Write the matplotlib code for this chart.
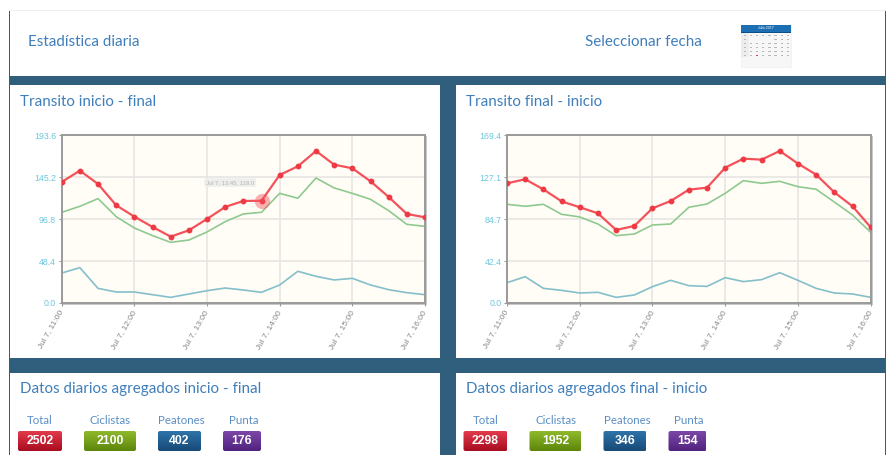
import numpy as np
import matplotlib
matplotlib.use("Agg")
import matplotlib.pyplot as plt
from matplotlib.patches import Rectangle, FancyBboxPatch

# ---- data ----
hour_ticks = [0, 4, 8, 12, 16, 20]
hour_labels = ["Jul 7, 11:00", "Jul 7, 12:00", "Jul 7, 13:00", "Jul 7, 14:00", "Jul 7, 15:00", "Jul 7, 16:00"]

left_total = [139.7, 152.8, 137.4, 112.8, 99.7, 87.8, 76.6, 83.9, 97.0, 110.9, 117.8, 118.0,
              147.8, 157.8, 175.5, 159.7, 155.5, 140.5, 122.4, 102.8, 98.9]
left_bike = [104.7, 111.6, 120.5, 99.7, 86.6, 77.8, 70.0, 72.7, 82.0, 93.9, 102.8, 104.7,
             126.6, 120.9, 144.3, 132.8, 126.6, 119.7, 106.6, 90.8, 88.5]
left_walk = [34.6, 40.8, 16.9, 12.7, 12.7, 9.6, 6.5, 10.4, 14.2, 17.3, 15.0, 12.3,
             20.8, 36.6, 30.8, 26.6, 28.5, 20.8, 15.4, 11.9, 9.6]
left_yticks = [0.0, 48.4, 96.8, 145.2, 193.6]

right_total = [120.9, 125.0, 114.8, 102.7, 96.7, 90.6, 73.8, 77.8, 95.7, 103.0, 114.5, 116.5,
               136.7, 145.8, 144.8, 153.6, 140.8, 129.7, 111.8, 97.7, 76.5]
right_bike = [99.7, 97.7, 99.7, 89.6, 86.9, 79.8, 68.0, 69.7, 78.8, 79.8, 96.7, 100.0,
              110.8, 123.6, 120.9, 122.9, 117.5, 114.9, 102.0, 88.9, 71.4]
right_walk = [20.5, 26.6, 14.8, 12.8, 10.1, 10.8, 5.7, 8.1, 16.5, 22.9, 17.5, 16.8,
              25.6, 21.6, 23.6, 30.6, 22.9, 14.8, 10.1, 9.1, 5.7]
right_yticks = [0.0, 42.4, 84.7, 127.1, 169.4]

badge_names = ["Total", "Ciclistas", "Peatones", "Punta"]
left_badges = [2502, 2100, 402, 176]
right_badges = [2298, 1952, 346, 154]

W, H = 895, 455
BG = "#2f5f7c"
BLUE = "#3f7ebb"
plt.rcParams["font.family"] = ["Lato", "DejaVu Sans"]

fig = plt.figure(figsize=(W / 100, H / 100), dpi=100, facecolor="white")
page = fig.add_axes([0, 0, 1, 1])
page.set_xlim(0, W)
page.set_ylim(H, 0)
page.axis("off")

# page frame and panels
page.add_patch(Rectangle((9, 10), 877, H - 10, fc=BG, ec="none"))
page.add_patch(Rectangle((10, 11), 875, 65, fc="white", ec="none"))
page.add_patch(Rectangle((9, 10), 877, 1, fc="#eef0f1", ec="none"))
for x0, x1 in [(10, 440), (456, 885)]:
    page.add_patch(Rectangle((x0, 85), x1 - x0, 273, fc="white", ec="none"))
    page.add_patch(Rectangle((x0, 373), x1 - x0, H - 373, fc="white", ec="none"))
page.add_patch(Rectangle((886, 85), 9, H - 85, fc="white", ec="none"))


def label(x, y, s, size=10.9, color=BLUE, **kw):
    page.text(x, y, s, fontsize=size, color=color, va="center", **kw)


label(28, 41.5, "Estadística diaria")
label(585, 41.5, "Seleccionar fecha")
label(20, 101.5, "Transito inicio - final")
label(466, 101.5, "Transito final - inicio")
label(20, 388.5, "Datos diarios agregados inicio - final")
label(466, 388.5, "Datos diarios agregados final - inicio")

# calendar widget
page.add_patch(Rectangle((741, 25), 50, 42, fc="#f7f7f7", ec="#efefef", lw=0.5))
page.add_patch(Rectangle((741, 25), 50, 6.5, fc="#1d6fb4", ec="none"))
page.add_patch(Rectangle((741, 31.5), 50, 1, fc="#0d4f88", ec="none"))
page.text(766, 28.3, "Julio 2017", fontsize=2.4, color="white", ha="center", va="center")
page.add_patch(Rectangle((741, 33), 8, 24, fc="#ededed", ec="none"))
for r in range(6):
    for c in range(8):
        if r == 0 or c == 0 or (r, c) not in [(1, 1), (1, 2), (1, 3), (1, 4)]:
            col = "#b8b8b8"
            if (r, c) == (5, 2):
                col = "#d04060"
            page.add_patch(Rectangle((744 + c * 6.1, 35 + r * 3.9), 2.2, 1.3, fc=col, ec="none"))


def chart(x0, x1, total, bike, walk, yticks):
    y0, y1 = 135.3, 303.0
    page.add_patch(Rectangle((x0 + 1, y0 + 1), x1 - x0 + 1, y1 - y0 + 1, fc="#c8c8c8", ec="none"))
    ax = fig.add_axes([x0 / W, 1 - y1 / H, (x1 - x0) / W, (y1 - y0) / H])
    ax.set_facecolor("#fffdf6")
    ax.set_xlim(0, 20)
    ax.set_ylim(yticks[0], yticks[-1])
    ax.grid(True, color="#e4e4e0", lw=1.1)
    ax.set_axisbelow(True)
    for s in ax.spines.values():
        s.set_color("#9a9a9a")
        s.set_linewidth(1.4)
    t = np.arange(len(total))
    ax.plot(t, walk, color="#84bfcb", lw=1.2, clip_on=True)
    ax.plot(t, bike, color="#8fc98f", lw=1.2, clip_on=True)
    ax.plot(t, total, color="#f4525a", lw=1.6, marker="o", ms=3.2, mfc="#ee3a44", mec="#ee3a44",
            clip_on=True, zorder=4)
    ax.set_yticks(yticks)
    ax.set_yticklabels([f"{v:.1f}" for v in yticks], fontsize=6.3, color="#6cc6dd",
                       family=["Liberation Sans"])
    ax.set_xticks(hour_ticks)
    ax.set_xticklabels(hour_labels, fontsize=6, color="#858585", rotation=60,
                       ha="right", va="center", rotation_mode="anchor", family=["Liberation Sans"])
    ax.tick_params(axis="y", length=2.5, width=0.8, color="#9a9a9a", pad=1.5)
    ax.tick_params(axis="x", length=2.5, width=0.8, color="#9a9a9a", pad=3)
    return ax


axl = chart(61.7, 425, left_total, left_bike, left_walk, left_yticks)
axr = chart(507, 870.7, right_total, right_bike, right_walk, right_yticks)

# hover highlight on the left chart
axl.plot([11], [left_total[11]], "o", ms=11, color="#f4525a", alpha=0.45, mec="none", zorder=5)
axl.text(7.95, 139, "Jul 7, 13:45, 118.0", fontsize=4.2, color="#b4b4b4", va="center", zorder=3,
         family=["Liberation Sans"], bbox=dict(boxstyle="round,pad=0.3", fc="#eeeeec", ec="none"))

# badges
BADGE_COL = [("#e23a4b", "#a80d20"), ("#8fb92b", "#5d860b"), ("#2e74a8", "#174a78"), ("#7d47a8", "#50237f")]
BADGE_CX = [40, 110, 179.5, 242]
BADGE_W = [44, 52, 43, 38]
NAME_CX = [40, 110.5, 181.5, 243.5]


def badges(dx, vals):
    for name, val, (top, bot), cx, w, ncx in zip(badge_names, vals, BADGE_COL, BADGE_CX, BADGE_W, NAME_CX):
        cx = cx + dx
        page.text(ncx + dx, 421, name, fontsize=8.3, color="#5a8fc4", ha="center", va="center")
        x, y, h = cx - w / 2, 431, 20
        clip = FancyBboxPatch((x + 2, y + 2), w - 4, h - 4, boxstyle="round,pad=2", fc="none", ec="none")
        page.add_patch(clip)
        grad = np.linspace(0, 1, 32)[:, None]
        c0 = np.array(matplotlib.colors.to_rgb(top))
        c1 = np.array(matplotlib.colors.to_rgb(bot))
        im = page.imshow(c0 + (c1 - c0) * grad[..., None], extent=(x, x + w, y + h, y), aspect="auto", zorder=2)
        im.set_clip_path(clip)
        page.text(cx, y + h / 2 + 0.5, str(val), fontsize=8.8, color="white", fontweight="bold",
                  family=["Liberation Sans"], ha="center", va="center", zorder=3)


badges(0, left_badges)
badges(445.5, right_badges)
page.set_xlim(0, W)
page.set_ylim(H, 0)
page.set_aspect("auto")

fig.savefig("out.png", dpi=100, facecolor="white")
